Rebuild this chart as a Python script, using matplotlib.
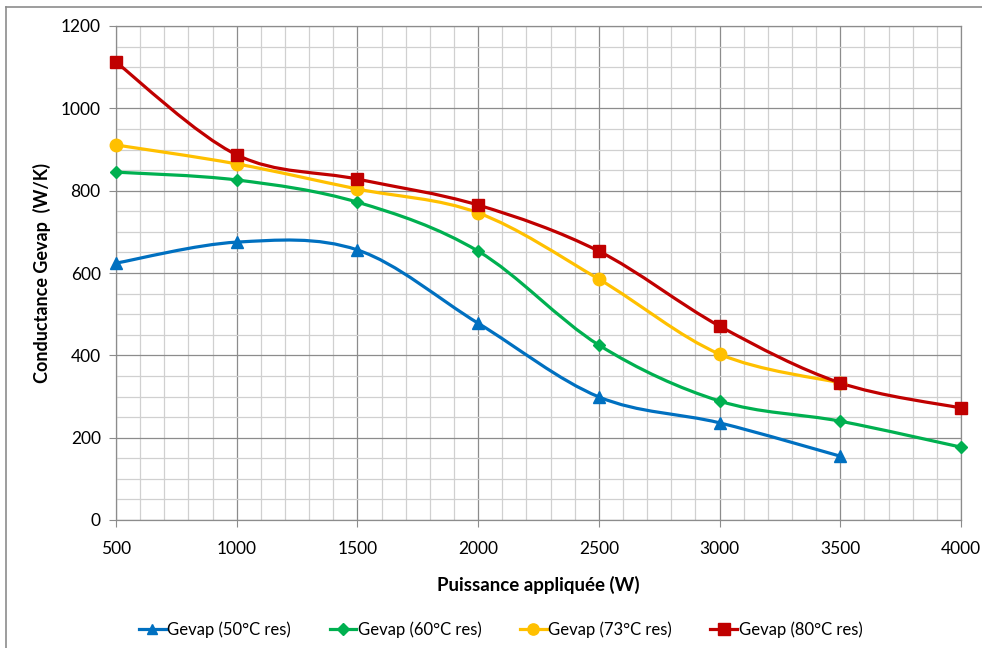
import numpy as np
import matplotlib.pyplot as plt
from matplotlib.path import Path
from matplotlib.patches import PathPatch
from matplotlib.lines import Line2D

plt.rcParams['font.family'] = ['Lato', 'DejaVu Sans']

# puissance appliquée (W)
x50 = [500, 1000, 1500, 2000, 2500, 3000, 3500]
x60 = [500, 1000, 1500, 2000, 2500, 3000, 3500, 4000]
x73 = [500, 1000, 1500, 2000, 2500, 3000, 3500]
x80 = [500, 1000, 1500, 2000, 2500, 3000, 3500, 4000]

# conductance Gevap (W/K)
g50 = [624, 675, 656, 478, 299, 236, 155]
g60 = [845, 826, 772, 653, 425, 289, 240, 177]
g73 = [911, 865, 804, 746, 585, 403, 333]
g80 = [1112, 887, 828, 765, 653, 471, 333, 272]

labels = ['Gevap (50°C res)', 'Gevap (60°C res)', 'Gevap (73°C res)', 'Gevap (80°C res)']
colors = ['#0070C0', '#00B050', '#FFC000', '#C00000']
markers = ['^', 'D', 'o', 's']
msizes = [8.5, 6.5, 9, 9]


def smooth_path(xs, ys):
    # excel-like smoothed line: cubic bezier, catmull-rom control points
    p = np.column_stack([xs, ys]).astype(float)
    n = len(p)
    verts = [p[0]]
    codes = [Path.MOVETO]
    for i in range(n - 1):
        p0 = p[i - 1] if i > 0 else p[i]
        p3 = p[i + 2] if i + 2 < n else p[i + 1]
        c1 = p[i] + (p[i + 1] - p0) / 6
        c2 = p[i + 1] - (p3 - p[i]) / 6
        verts += [c1, c2, p[i + 1]]
        codes += [Path.CURVE4] * 3
    return Path(verts, codes)


fig = plt.figure(figsize=(9.82, 6.48), dpi=100)
ax = fig.add_axes([116 / 982, 1 - 520 / 648, 845 / 982, 494 / 648])

series = [(x50, g50), (x60, g60), (x73, g73), (x80, g80)]
for (xs, ys), c, m, ms in zip(series, colors, markers, msizes):
    ax.add_patch(PathPatch(smooth_path(xs, ys), fill=False, edgecolor=c, lw=2.3, zorder=3))
    ax.plot(xs, ys, ls='none', marker=m, color=c, ms=ms, zorder=4, clip_on=False)

ax.set_xlim(500, 4000)
ax.set_ylim(0, 1200)
ax.set_xticks(np.arange(500, 4001, 500))
ax.set_yticks(np.arange(0, 1201, 200))
ax.set_xticks(np.arange(500, 4001, 100), minor=True)
ax.set_yticks(np.arange(0, 1201, 50), minor=True)
ax.grid(True, which='major', color='#8c8c8c', lw=0.9, zorder=1)
ax.grid(True, which='minor', color='#d0d0d0', lw=0.9, zorder=0)
ax.set_axisbelow(True)
ax.tick_params(which='minor', length=0)
ax.tick_params(which='major', length=5, color='#8c8c8c', labelsize=12.5, pad=6)
ax.tick_params(axis='x', which='major', pad=10)
for s in ax.spines.values():
    s.set_color('#8c8c8c')
    s.set_linewidth(0.9)

ax.set_xlabel('Puissance appliquée (W)', fontsize=13.5, fontweight='bold', labelpad=14)
ax.set_ylabel('Conductance Gevap  (W/K)', fontsize=13, fontweight='bold', labelpad=7)

handles = [Line2D([], [], color=c, marker=m, ms=ms * 0.9, lw=2.3)
           for c, m, ms in zip(colors, markers, msizes)]
fig.legend(handles, labels, loc='center', bbox_to_anchor=(0.51, 1 - 630 / 648), ncol=4,
           frameon=False, fontsize=12, handlelength=1.6, handletextpad=0.1, columnspacing=2.3)

# chart border (top and left visible)
fig.add_artist(Line2D([6 / 982, 6 / 982], [0, 1 - 7 / 648], transform=fig.transFigure,
                      color='#8c8c8c', lw=1.2))
fig.add_artist(Line2D([6 / 982, 1], [1 - 7 / 648, 1 - 7 / 648], transform=fig.transFigure,
                      color='#8c8c8c', lw=1.2))

fig.savefig('out.png', dpi=100)
